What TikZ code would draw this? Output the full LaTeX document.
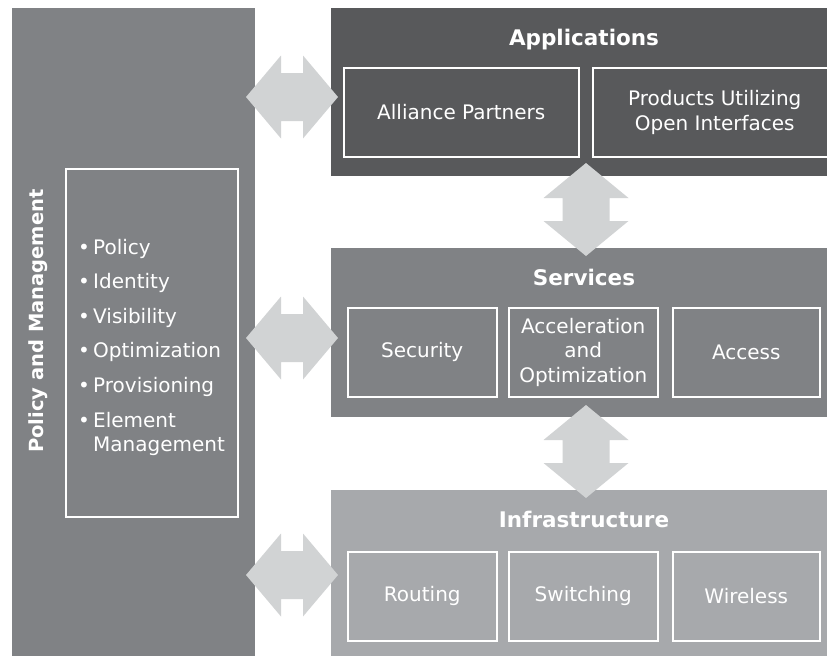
\documentclass[tikz,border=0pt]{standalone}
\usepackage{fontspec}
\setmainfont{DejaVu Sans}
\begin{document}
\begin{tikzpicture}[x=1pt,y=-1pt,
  panel/.style={anchor=north west, inner sep=0pt, draw=none},
  cell/.style={anchor=north west, draw=white, line width=1.5pt, inner sep=0pt, text=white, align=center, font=\fontsize{20}{24.5}\selectfont},
  ttl/.style={anchor=base, text=white, inner sep=0pt, font=\bfseries\fontsize{21.5}{25}\selectfont},
  item/.style={anchor=base west, text=white, inner sep=0pt, font=\fontsize{20}{24}\selectfont},
  harrow/.pic={\fill[arrowgray] (-46,0) -- (-11,-41.5) -- (-11,-24) -- (11,-24) -- (11,-41.5) -- (46,0) -- (11,41.5) -- (11,24) -- (-11,24) -- (-11,41.5) -- cycle;},
  varrow/.pic={\fill[arrowgray] (0,-46.5) -- (42.5,-11.5) -- (23.5,-11.5) -- (23.5,11.5) -- (42.5,11.5) -- (0,46.5) -- (-42.5,11.5) -- (-23.5,11.5) -- (-23.5,-11.5) -- (-42.5,-11.5) -- cycle;}
]
\definecolor{appgray}{HTML}{58595B}
\definecolor{midgray}{HTML}{808285}
\definecolor{infgray}{HTML}{A7A9AC}
\definecolor{arrowgray}{HTML}{D1D3D4}
\useasboundingbox (0,0) rectangle (827,656);
\fill[white] (0,0) rectangle (827,656);

% left panel
\node[panel, fill=midgray, minimum width=243pt, minimum height=648pt] (pm) at (12,8) {};
\node[cell, minimum width=172pt, minimum height=348pt] (pmbox) at (65,168) {};
\node[text=white, inner sep=0pt, font=\bfseries\fontsize{19.5}{24}\selectfont, rotate=90] (pmtitle) at (38,321) {Policy and Management};
\node[item] (i1) at (78,254) {\makebox[15pt][l]{•}Policy};
\node[item] (i2) at (78,288.5) {\makebox[15pt][l]{•}Identity};
\node[item] (i3) at (78,323) {\makebox[15pt][l]{•}Visibility};
\node[item] (i4) at (78,357.5) {\makebox[15pt][l]{•}Optimization};
\node[item] (i5) at (78,392) {\makebox[15pt][l]{•}Provisioning};
\node[item] (i6) at (78,427) {\makebox[15pt][l]{•}Element};
\node[item] (i7) at (78,451) {\hspace*{15pt}Management};

% applications
\node[panel, fill=appgray, minimum width=497pt, minimum height=168pt] (app) at (331,8) {};
\node[ttl] (apptitle) at (584,45) {Applications};
\node[cell, minimum width=235pt, minimum height=89pt] (alliance) at (343,67) {Alliance Partners};
\begin{scope}
\clip (0,0) rectangle (827,656);
\node[cell, minimum width=244pt, minimum height=89pt] (products) at (592,67) {Products Utilizing\\Open Interfaces};
\end{scope}

% services
\node[panel, fill=midgray, minimum width=496pt, minimum height=169pt] (svc) at (331,248) {};
\node[ttl] (svctitle) at (584,285) {Services};
\node[cell, minimum width=149pt, minimum height=89pt] (security) at (347,307) {Security};
\node[cell, minimum width=149pt, minimum height=89pt] (accel) at (508,307) {Acceleration\\and\\Optimization};
\node[cell, minimum width=147pt, minimum height=89pt] (access) at (672,307) {Access};

% infrastructure
\node[panel, fill=infgray, minimum width=496pt, minimum height=166pt] (inf) at (331,490) {};
\node[ttl] (inftitle) at (584,527) {Infrastructure};
\node[cell, minimum width=149pt, minimum height=89pt] (routing) at (347,551) {Routing};
\node[cell, minimum width=149pt, minimum height=89pt] (switching) at (508,551) {Switching};
\node[cell, minimum width=147pt, minimum height=89pt] (wireless) at (672,551) {Wireless};

% arrows
\pic at (292,97) {harrow};
\pic at (292,338) {harrow};
\pic at (292,575) {harrow};
\pic at (586,209.5) {varrow};
\pic at (586,451.5) {varrow};
\end{tikzpicture}
\end{document}
